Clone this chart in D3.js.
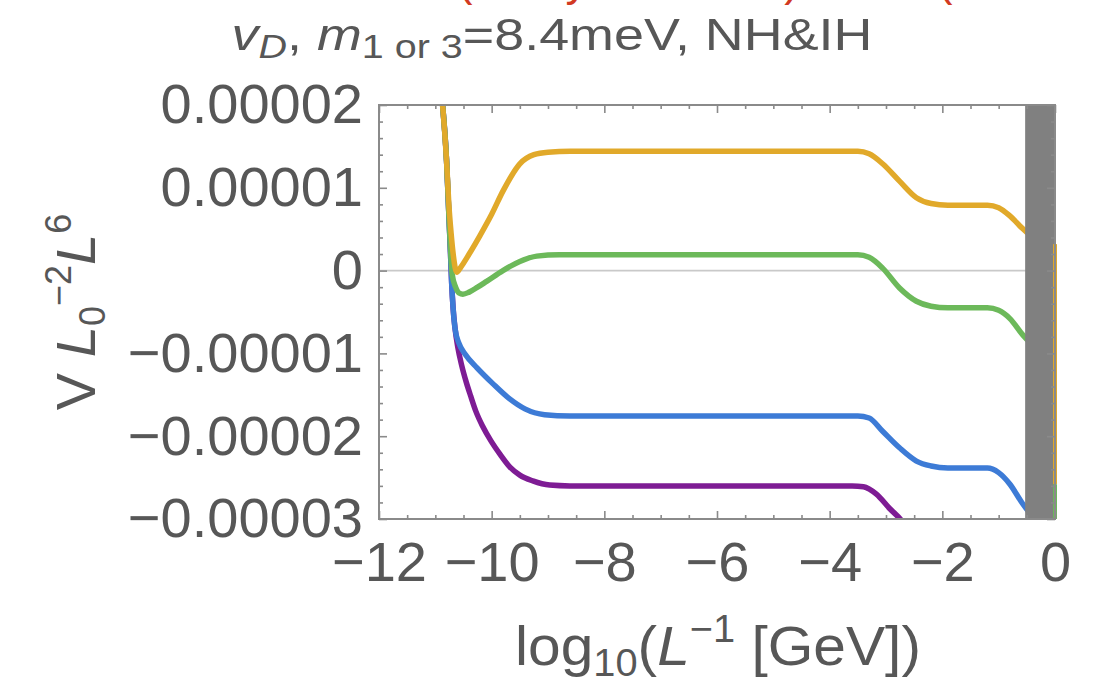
<!DOCTYPE html>
<html>
<head>
<meta charset="utf-8">
<script src="https://cdn.jsdelivr.net/npm/d3@7/dist/d3.min.js"></script>
<style>
  html, body { margin: 0; padding: 0; background: #fff; }
  svg { display: block; }
  text { font-family: "Liberation Sans", Arial, Helvetica, sans-serif; fill: #575757; }
</style>
</head>
<body>
<svg id="chart" width="1099" height="683"></svg>
<script>
// ---------------- data (y in units of 1e-5) ----------------
const xDomain = [-12, 0];
const yDomain = [-3e-5, 2e-5];
const xTicks = [-12, -10, -8, -6, -4, -2, 0];
const xTickLabels = ["\u221212", "\u221210", "\u22128", "\u22126", "\u22124", "\u22122", "0"];
const yTicks = [-3e-5, -2e-5, -1e-5, 0, 1e-5, 2e-5];
const yTickLabels = ["\u22120.00003", "\u22120.00002", "\u22120.00001", "0", "0.00001", "0.00002"];

const yellowX = [-10.98, -10.87, -10.80, -10.76, -10.72, -10.68, -10.62, -10.55, -10.40, -10.21, -10.0, -9.80, -9.5, -9.25, -9.0, -8.6, -3.5, -3.3, -3.06, -2.76, -2.46, -2.2, -1.9, -1.2, -1.0, -0.8, -0.58, -0.4];
const yellowY = [2.6, 1.99, 1.32, 0.80, 0.45, 0.18, -0.02, 0.04, 0.20, 0.42, 0.68, 0.96, 1.29, 1.40, 1.43, 1.44, 1.44, 1.41, 1.29, 1.08, 0.88, 0.81, 0.79, 0.79, 0.76, 0.66, 0.51, 0.40];

const greenX = [-10.98, -10.87, -10.80, -10.76, -10.73, -10.70, -10.64, -10.58, -10.51, -10.40, -10.25, -10.09, -9.80, -9.5, -9.2, -8.8, -3.5, -3.3, -3.06, -2.76, -2.46, -2.2, -1.9, -1.2, -1.0, -0.8, -0.58, -0.4];
const greenY = [2.6, 1.99, 1.32, 0.68, 0.25, -0.05, -0.20, -0.27, -0.285, -0.26, -0.20, -0.13, 0.0, 0.11, 0.175, 0.19, 0.19, 0.16, 0.03, -0.21, -0.37, -0.43, -0.45, -0.45, -0.48, -0.58, -0.77, -0.90];

const blueX = [-10.98, -10.87, -10.80, -10.76, -10.73, -10.71, -10.685, -10.65, -10.58, -10.47, -10.26, -9.98, -9.68, -9.41, -9.06, -8.61, -3.5, -3.3, -3.06, -2.76, -2.46, -2.2, -1.9, -1.2, -1.0, -0.8, -0.58, -0.4];
const blueY = [2.6, 1.99, 1.32, 0.68, 0.20, -0.15, -0.45, -0.70, -0.88, -1.01, -1.175, -1.365, -1.55, -1.67, -1.74, -1.755, -1.755, -1.78, -1.94, -2.14, -2.30, -2.36, -2.385, -2.385, -2.44, -2.58, -2.81, -2.97];

const purpleX = [-10.98, -10.87, -10.80, -10.76, -10.73, -10.71, -10.685, -10.65, -10.60, -10.53, -10.45, -10.37, -10.28, -10.16, -10.01, -9.85, -9.68, -9.5, -9.27, -8.97, -8.61, -3.6, -3.4, -3.17, -2.94, -2.71, -2.5];
const purpleY = [2.6, 1.99, 1.32, 0.68, 0.20, -0.15, -0.45, -0.70, -0.93, -1.15, -1.35, -1.52, -1.70, -1.88, -2.06, -2.22, -2.37, -2.47, -2.54, -2.59, -2.60, -2.60, -2.61, -2.70, -2.87, -3.03, -3.25];

// short vertical pieces visible at the right edge (x = 0)
const yellowEdgeX = [0, 0];
const yellowEdgeY = [0.32, -2.58];
const greenEdgeX = [0, 0];
const greenEdgeY = [-2.58, -3.05];

const bandRange = [-0.53, 0];

const seriesColors = { yellow: "#e1a92a", green: "#6cb95a", blue: "#3d7bd6", purple: "#7e1c94" };

// ---------------- layout ----------------
const svg = d3.select("#chart");
const L = 379, R = 1055, T = 105, B = 519;
const x = d3.scaleLinear().domain(xDomain).range([L, R]);
const y = d3.scaleLinear().domain(yDomain).range([B, T]);
const frameColor = "#8a8a8a";

svg.append("defs").append("clipPath").attr("id", "clip")
  .append("rect").attr("x", L).attr("y", T).attr("width", R - L + 3).attr("height", B - T);

// zero line
svg.append("line")
  .attr("x1", L).attr("x2", R).attr("y1", y(0)).attr("y2", y(0))
  .attr("stroke", "#c9c9c9").attr("stroke-width", 1.6);

const line = d3.line().x(d => x(d[0])).y(d => y(d[1] * 1e-5)).curve(d3.curveMonotoneX);
const zip = (a, b) => a.map((v, i) => [v, b[i]]);
const lineStraight = d3.line().x(d => x(d[0])).y(d => y(d[1] * 1e-5));

const g = svg.append("g").attr("clip-path", "url(#clip)");
[["purple", purpleX, purpleY], ["blue", blueX, blueY], ["green", greenX, greenY], ["yellow", yellowX, yellowY]]
  .forEach(([k, xs, ys]) => {
    g.append("path").datum(zip(xs, ys)).attr("d", line)
      .attr("fill", "none").attr("stroke", seriesColors[k]).attr("stroke-width", 5.5)
      .attr("stroke-linejoin", "round").attr("stroke-linecap", "butt");
  });

// gray band
g.append("rect")
  .attr("x", x(bandRange[0])).attr("y", T)
  .attr("width", x(bandRange[1]) - x(bandRange[0])).attr("height", B - T)
  .attr("fill", "#808080");

// edge pieces
g.append("path").datum(zip(yellowEdgeX, yellowEdgeY)).attr("d", lineStraight)
  .attr("stroke", seriesColors.yellow).attr("stroke-width", 4).attr("fill", "none");
g.append("path").datum(zip(greenEdgeX, greenEdgeY)).attr("d", lineStraight)
  .attr("stroke", seriesColors.green).attr("stroke-width", 4).attr("fill", "none");

// frame
svg.append("rect").attr("x", L).attr("y", T).attr("width", R - L).attr("height", B - T)
  .attr("fill", "none").attr("stroke", frameColor).attr("stroke-width", 2);

// ticks
const xMinor = d3.range(-12, 0.001, 0.5).filter(v => Math.abs(v % 2) > 1e-9);
const yMinor = d3.range(-3e-5, 2.0001e-5, 2e-6).filter(v => Math.abs(Math.round(v / 1e-5) * 1e-5 - v) > 1e-9);

function styleAxis(sel) {
  sel.select(".domain").remove();
  sel.selectAll(".tick line").attr("stroke", frameColor).attr("stroke-width", 1.6);
  sel.selectAll(".tick text").style("font-size", "56px").attr("fill", "#575757");
}

svg.append("g").attr("transform", `translate(0,${B})`)
  .call(d3.axisBottom(x).tickValues(xTicks).tickSize(-8).tickPadding(22).tickFormat((d, i) => xTickLabels[i]))
  .call(styleAxis);
svg.append("g").attr("transform", `translate(0,${B})`)
  .call(d3.axisBottom(x).tickValues(xMinor).tickSize(-4).tickFormat(""))
  .call(styleAxis);
svg.append("g").attr("transform", `translate(0,${T})`)
  .call(d3.axisTop(x).tickValues(xTicks).tickSize(-8).tickFormat(""))
  .call(styleAxis);
svg.append("g").attr("transform", `translate(0,${T})`)
  .call(d3.axisTop(x).tickValues(xMinor).tickSize(-4).tickFormat(""))
  .call(styleAxis);

svg.append("g").attr("transform", `translate(${L},0)`)
  .call(d3.axisLeft(y).tickValues(yTicks).tickSize(-8).tickPadding(16).tickFormat((d, i) => yTickLabels[i]))
  .call(styleAxis);
svg.append("g").attr("transform", `translate(${L},0)`)
  .call(d3.axisLeft(y).tickValues(yMinor).tickSize(-4).tickFormat(""))
  .call(styleAxis);
svg.append("g").attr("transform", `translate(${R},0)`)
  .call(d3.axisRight(y).tickValues(yTicks).tickSize(-8).tickFormat(""))
  .call(styleAxis);
svg.append("g").attr("transform", `translate(${R},0)`)
  .call(d3.axisRight(y).tickValues(yMinor).tickSize(-4).tickFormat(""))
  .call(styleAxis);

// helper: horizontally fit a text group to a target width around a centre
function fitWidth(sel, cx, targetW) {
  const bb = sel.node().getBBox();
  const s = targetW / bb.width;
  sel.attr("transform", `translate(${cx},0) scale(${s},1) translate(${-cx},0)`);
}

// ---------------- titles ----------------
const title = svg.append("text").attr("x", 552).attr("y", 50).attr("text-anchor", "middle").style("font-size", "45px");
title.append("tspan").attr("font-style", "italic").text("v");
title.append("tspan").attr("font-style", "italic").style("font-size", "33px").attr("dy", 8).text("D");
title.append("tspan").attr("dy", -8).text(", ");
title.append("tspan").attr("font-style", "italic").text("m");
title.append("tspan").style("font-size", "33px").attr("dy", 8).text("1 or 3");
title.append("tspan").attr("dy", -8).text("=8.4meV, NH&IH");
fitWidth(title, 552, 641);

// red fragments at top edge (cut-off text above)
const red = "#d23a22";
[[465, "("], [577, "y"], [792, ")"], [945, "("]].forEach(([px, ch]) => {
  svg.append("text").attr("x", px).attr("y", -5).attr("text-anchor", "middle")
    .style("font-size", "46px").style("fill", red).text(ch);
});

// y axis title
const yt = svg.append("text").attr("transform", "translate(95,312) rotate(-90)")
  .attr("text-anchor", "middle").style("font-size", "56px");
yt.append("tspan").text("V ");
yt.append("tspan").attr("font-style", "italic").text("L");
yt.append("tspan").style("font-size", "36px").attr("dy", 10).text("0");
yt.append("tspan").style("font-size", "36px").attr("dy", -34).text("\u22122");
yt.append("tspan").attr("font-style", "italic").attr("dy", 24).text("L");
yt.append("tspan").style("font-size", "36px").attr("dy", -24).text("6");

// x axis title
const xt = svg.append("text").attr("x", 718).attr("y", 665).attr("text-anchor", "middle").style("font-size", "56px");
xt.append("tspan").text("log");
xt.append("tspan").style("font-size", "38px").attr("dy", 11).text("10");
xt.append("tspan").attr("dy", -11).text("(");
xt.append("tspan").attr("font-style", "italic").text("L");
xt.append("tspan").style("font-size", "38px").attr("dy", -23).text("\u22121");
xt.append("tspan").attr("dy", 23).text(" [GeV])");
fitWidth(xt, 718, 406);
</script>
</body>
</html>
